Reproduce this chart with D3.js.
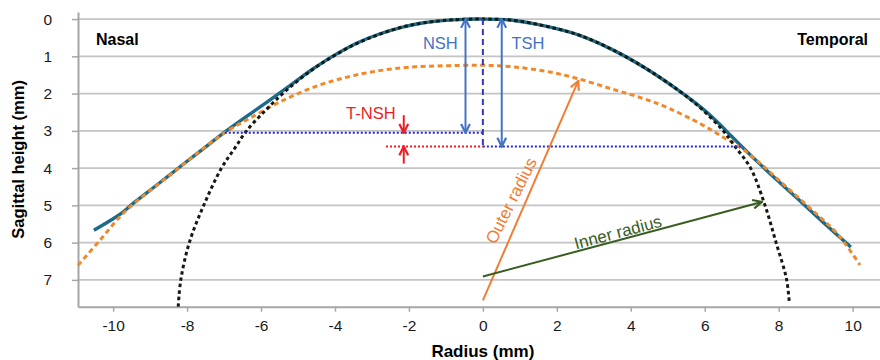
<!DOCTYPE html>
<html>
<head>
<meta charset="utf-8">
<script src="https://cdn.jsdelivr.net/npm/d3@7"></script>
<style>
  body { margin: 0; background: #fff; }
  svg { display: block; font-family: "Liberation Sans", Arial, sans-serif; }
</style>
</head>
<body>
<svg id="chart" width="880" height="360"></svg>
<script>
// tick values (mm)
const xTicks = [-10, -8, -6, -4, -2, 0, 2, 4, 6, 8, 10];
const yTicks = [0, 1, 2, 3, 4, 5, 6, 7];

// corneal profile, solid teal [radius, sagittal height]
const corneaProfile = [
  [-10.52, 5.67], [-10.1, 5.42], [-9.8, 5.23], [-9.4, 4.9], [-8.8, 4.44], [-8.2, 3.97],
  [-7.6, 3.51], [-7.0, 3.05], [-6.4, 2.62], [-5.8, 2.2], [-5.2, 1.77], [-4.6, 1.34],
  [-4.0, 0.96], [-3.4, 0.64], [-2.8, 0.4], [-2.2, 0.22], [-1.6, 0.1], [-0.8, 0.02],
  [0, 0], [0.8, 0.03], [1.7, 0.19], [2.6, 0.43], [3.5, 0.82], [4.4, 1.32], [5.3, 1.92],
  [5.9, 2.37], [6.3, 2.72], [6.6, 3.02], [7.0, 3.42], [7.5, 3.9], [8.0, 4.36],
  [8.5, 4.81], [9.2, 5.45], [9.95, 6.12]
];

// outer curve, orange dashed
const outerCurve = [
  [-10.95, 6.61], [-10.36, 5.94], [-9.82, 5.31], [-9.4, 4.92], [-8.8, 4.45], [-8.2, 3.98],
  [-7.6, 3.5], [-7.0, 3.06], [-6.3, 2.66], [-5.4, 2.18], [-4.5, 1.8], [-3.6, 1.54],
  [-2.7, 1.37], [-1.8, 1.28], [-0.9, 1.25], [0, 1.24], [0.8, 1.28], [1.7, 1.4],
  [2.5, 1.58], [3.5, 1.88], [4.3, 2.12], [5.0, 2.38], [5.9, 2.82], [6.5, 3.17],
  [7.0, 3.47], [7.6, 3.96], [8.2, 4.5], [8.9, 5.12], [9.6, 5.78], [10.2, 6.6]
];

// inner circle, black dotted
const innerCircle = [
  [-8.24, 7.72], [-8.17, 7.0], [-7.94, 6.0], [-7.55, 5.0], [-7.07, 4.0], [-6.7, 3.45],
  [-6.39, 3.0], [-5.85, 2.42], [-5.3, 1.9], [-4.6, 1.35], [-4.0, 0.97], [-3.4, 0.65],
  [-2.8, 0.41], [-2.2, 0.22], [-1.6, 0.1], [-0.8, 0.02], [0, 0], [0.8, 0.03],
  [1.7, 0.19], [2.6, 0.43], [3.5, 0.82], [4.4, 1.32], [5.3, 1.92], [5.9, 2.4],
  [6.5, 3.0], [6.82, 3.42], [7.24, 4.0], [7.63, 5.0], [7.93, 6.0], [8.21, 6.97],
  [8.29, 7.64]
];

// annotation values (mm)
const nshDepth = 3.05;
const tshDepth = 3.42;
const nshEdge = -6.98;
const tshEdge = 7.0;
const nshArrowX = -0.47;
const tshArrowX = 0.51;
const tnshX = -2.14;
const tnshLineStart = -2.62;
const outerArrow = [[0, 7.55], [2.58, 1.66]];
const innerArrow = [[0, 6.91], [7.54, 4.91]];

const svg = d3.select('#chart');
const plotLeft = 78, plotRight = 880, plotTop = 12, plotBottom = 306.7;

const x = d3.scaleLinear().domain([-10.95, 10.74]).range([plotLeft, plotRight]);
const y = d3.scaleLinear().domain([-0.19, 7.72]).range([plotTop, plotBottom]);

// arrow markers (open chevrons)
const defs = svg.append('defs');
function marker(id, color) {
  defs.append('marker')
    .attr('id', id)
    .attr('viewBox', '0 0 10 10')
    .attr('refX', 9).attr('refY', 5)
    .attr('markerWidth', 11).attr('markerHeight', 11)
    .attr('markerUnits', 'userSpaceOnUse')
    .attr('orient', 'auto-start-reverse')
    .append('path')
    .attr('d', 'M1,1 L9,5 L1,9')
    .attr('fill', 'none')
    .attr('stroke', color)
    .attr('stroke-width', 2);
}
marker('head-blue', '#4472c4');
marker('head-red', '#ee1c25');
marker('head-orange', '#ef7d33');
marker('head-green', '#385d1f');

// grid
svg.append('g')
  .selectAll('line')
  .data(yTicks)
  .join('line')
  .attr('x1', plotLeft).attr('x2', plotRight)
  .attr('y1', d => y(d)).attr('y2', d => y(d))
  .attr('stroke', '#c4c4c4')
  .attr('stroke-width', 1.8);

// axes
const yAxis = svg.append('g')
  .attr('transform', `translate(${plotLeft},0)`)
  .call(d3.axisLeft(y).tickValues(yTicks).tickSize(6).tickSizeOuter(0).tickPadding(20));
const xAxis = svg.append('g')
  .attr('transform', `translate(0,${plotBottom})`)
  .call(d3.axisBottom(x).tickValues(xTicks).tickSize(5).tickSizeOuter(0).tickPadding(8));
[yAxis, xAxis].forEach(a => {
  a.select('.domain').attr('stroke', '#a6a6a6').attr('stroke-width', 2);
  a.selectAll('.tick line').attr('stroke', '#a6a6a6').attr('stroke-width', 1.5);
  a.selectAll('.tick text')
    .attr('fill', '#1a1a1a')
    .style('font-size', '15.5px')
    .style('font-family', '"Liberation Sans", Arial, sans-serif');
});
xAxis.selectAll('.tick text').text(d => d < 0 ? '-' + Math.abs(d) : d);

// titles
svg.append('text')
  .attr('x', x(0)).attr('y', 357)
  .attr('text-anchor', 'middle')
  .style('font-size', '17px').style('font-weight', 'bold')
  .text('Radius (mm)');
svg.append('text')
  .attr('transform', `translate(24,${(plotTop + plotBottom) / 2}) rotate(-90)`)
  .attr('text-anchor', 'middle')
  .style('font-size', '16.5px').style('font-weight', 'bold')
  .text('Sagittal height (mm)');
svg.append('text')
  .attr('x', 96).attr('y', 45)
  .style('font-size', '16px').style('font-weight', 'bold')
  .text('Nasal');
svg.append('text')
  .attr('x', 868).attr('y', 45)
  .attr('text-anchor', 'end')
  .style('font-size', '16px').style('font-weight', 'bold')
  .text('Temporal');

// curves
const line = d3.line().x(d => x(d[0])).y(d => y(d[1])).curve(d3.curveCatmullRom.alpha(0.5));

svg.append('path')
  .datum(corneaProfile)
  .attr('d', line)
  .attr('fill', 'none')
  .attr('stroke', '#1c6b8a')
  .attr('stroke-width', 3.4);

svg.append('path')
  .datum(outerCurve)
  .attr('d', line)
  .attr('fill', 'none')
  .attr('stroke', '#f0892a')
  .attr('stroke-width', 3)
  .attr('stroke-dasharray', '5,3.5');

svg.append('path')
  .datum(innerCircle)
  .attr('d', line)
  .attr('fill', 'none')
  .attr('stroke', '#141a10')
  .attr('stroke-width', 3)
  .attr('stroke-dasharray', '3.5,3');

// sagittal height reference lines
svg.append('line')
  .attr('x1', x(0)).attr('x2', x(0))
  .attr('y1', y(0)).attr('y2', y(tshDepth))
  .attr('stroke', '#3434c8').attr('stroke-width', 2)
  .attr('stroke-dasharray', '6,4');
svg.append('line')
  .attr('x1', x(nshEdge)).attr('x2', x(0))
  .attr('y1', y(nshDepth)).attr('y2', y(nshDepth))
  .attr('stroke', '#2a2ad0').attr('stroke-width', 2)
  .attr('stroke-dasharray', '2,2');
svg.append('line')
  .attr('x1', x(0)).attr('x2', x(tshEdge))
  .attr('y1', y(tshDepth)).attr('y2', y(tshDepth))
  .attr('stroke', '#2a2ad0').attr('stroke-width', 2)
  .attr('stroke-dasharray', '2,2');
svg.append('line')
  .attr('x1', x(tnshLineStart)).attr('x2', x(0))
  .attr('y1', y(tshDepth)).attr('y2', y(tshDepth))
  .attr('stroke', '#ee1c25').attr('stroke-width', 2)
  .attr('stroke-dasharray', '2,2');

// arrows
function arrow(p0, p1, color, id, both) {
  const l = svg.append('line')
    .attr('x1', x(p0[0])).attr('y1', y(p0[1]))
    .attr('x2', x(p1[0])).attr('y2', y(p1[1]))
    .attr('stroke', color).attr('stroke-width', 2)
    .attr('marker-end', `url(#${id})`);
  if (both) l.attr('marker-start', `url(#${id})`);
}
arrow([nshArrowX, 0], [nshArrowX, nshDepth], '#4472c4', 'head-blue', true);
arrow([tshArrowX, 0], [tshArrowX, tshDepth], '#4472c4', 'head-blue', true);
arrow([tnshX, 2.58], [tnshX, nshDepth], '#ee1c25', 'head-red', false);
arrow([tnshX, 3.88], [tnshX, tshDepth], '#ee1c25', 'head-red', false);
arrow(outerArrow[0], outerArrow[1], '#ef7d33', 'head-orange', false);
arrow(innerArrow[0], innerArrow[1], '#385d1f', 'head-green', false);

svg.append('text')
  .attr('x', x(-1.15)).attr('y', 49)
  .attr('text-anchor', 'middle')
  .attr('fill', '#4472c4')
  .style('font-size', '16.5px')
  .text('NSH');
svg.append('text')
  .attr('x', x(1.22)).attr('y', 49)
  .attr('text-anchor', 'middle')
  .attr('fill', '#4472c4')
  .style('font-size', '16.5px')
  .text('TSH');
svg.append('text')
  .attr('x', x(-3.03)).attr('y', 118.5)
  .attr('text-anchor', 'middle')
  .attr('fill', '#ee1c25')
  .style('font-size', '16.5px')
  .text('T-NSH');

// radius labels, rotated along their arrows
function angleOf(a) {
  return Math.atan2(y(a[1][1]) - y(a[0][1]), x(a[1][0]) - x(a[0][0])) * 180 / Math.PI;
}
svg.append('text')
  .attr('transform', `translate(${x(0.76)},${y(4.87)}) rotate(${angleOf(outerArrow) + 3})`)
  .attr('text-anchor', 'middle')
  .attr('dy', '0.35em')
  .attr('fill', '#ef7d33')
  .style('font-size', '17px')
  .text('Outer radius');
svg.append('text')
  .attr('transform', `translate(${x(3.65)},${y(5.72)}) rotate(${angleOf(innerArrow)})`)
  .attr('text-anchor', 'middle')
  .attr('dy', '0.35em')
  .attr('fill', '#385d1f')
  .style('font-size', '17px')
  .text('Inner radius');
</script>
</body>
</html>
